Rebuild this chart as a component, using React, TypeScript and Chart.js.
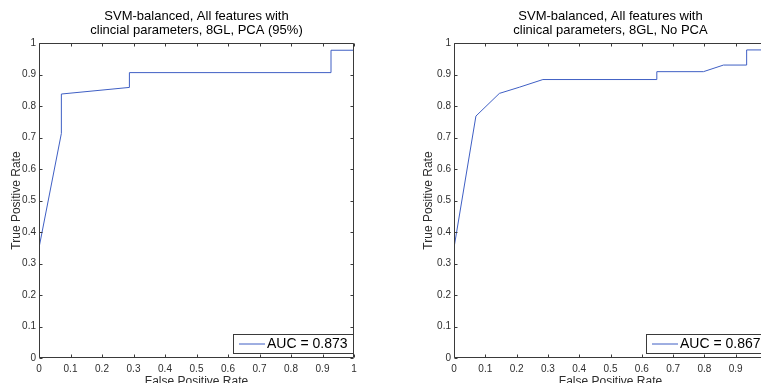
import React, { useEffect, useRef } from "react";
import { Chart, registerables } from "chart.js";

Chart.register(...registerables);

// ROC curve, left panel (PCA 95%)
const fprA = [0, 0.071, 0.071, 0.287, 0.287, 0.927, 0.927, 1];
const tprA = [0.35, 0.713, 0.838, 0.859, 0.906, 0.906, 0.977, 0.977];

// ROC curve, right panel (No PCA)
const fprB = [0, 0.07, 0.145, 0.21, 0.284, 0.648, 0.648, 0.797, 0.861, 0.935, 0.935, 1];
const tprB = [0.35, 0.768, 0.84, 0.86, 0.884, 0.884, 0.909, 0.909, 0.93, 0.93, 0.978, 0.978];

const titleA = ["SVM-balanced, All features with", "clincial parameters, 8GL, PCA (95%)"];
const titleB = ["SVM-balanced, All features with", "clinical parameters, 8GL, No PCA"];
const aucA = "AUC = 0.873";
const aucB = "AUC = 0.867";

const tickValues = [0, 0.1, 0.2, 0.3, 0.4, 0.5, 0.6, 0.7, 0.8, 0.9, 1];
const tickLabels = ["0", "0.1", "0.2", "0.3", "0.4", "0.5", "0.6", "0.7", "0.8", "0.9", "1"];
const xAxisLabel = "False Positive Rate";
const yAxisLabel = "True Positive Rate";

const FONT = "'Liberation Sans', Arial, Helvetica, sans-serif";
const LINE_COLOR = "#3f5fc4";
const AXIS_COLOR = "#3a3a3a";
const TEXT_COLOR = "#2e2e2e";
const CANVAS_H = 400;
const PLOT_BOTTOM = 358;

function labelFor(v: number): string {
  let best = 0;
  for (let i = 1; i < tickValues.length; i++) {
    if (Math.abs(tickValues[i] - v) < Math.abs(tickValues[best] - v)) best = i;
  }
  return tickLabels[best];
}

const framePlugin = {
  id: "frame",
  afterDatasetsDraw(chart: any) {
    const { ctx, chartArea, scales } = chart;
    const { left, right, top, bottom } = chartArea;
    const L = Math.round(left) + 0.5;
    const R = Math.round(right) - 0.5;
    const T = Math.round(top) + 0.5;
    const B = Math.round(bottom) - 0.5;
    const tl = 3;
    ctx.save();
    ctx.strokeStyle = AXIS_COLOR;
    ctx.lineWidth = 1;
    ctx.beginPath();
    ctx.rect(L, T, R - L, B - T);
    ctx.stroke();
    ctx.beginPath();
    for (const t of scales.x.ticks) {
      const px = Math.round(scales.x.getPixelForValue(t.value)) + 0.5;
      ctx.moveTo(px, B);
      ctx.lineTo(px, B - tl);
      ctx.moveTo(px, T);
      ctx.lineTo(px, T + tl);
    }
    for (const t of scales.y.ticks) {
      const py = Math.round(scales.y.getPixelForValue(t.value)) + 0.5;
      ctx.moveTo(L, py);
      ctx.lineTo(L + tl, py);
      ctx.moveTo(R, py);
      ctx.lineTo(R - tl, py);
    }
    ctx.stroke();
    ctx.restore();
  },
};

const aucPlugin = {
  id: "aucBox",
  afterDraw(chart: any, _args: any, opts: any) {
    const { ctx, chartArea } = chart;
    const text = opts.text as string;
    ctx.save();
    ctx.font = `14px ${FONT}`;
    const tw = ctx.measureText(text).width;
    const w = Math.round(6 + 26 + 3 + tw + 4);
    const h = 19;
    const right = Math.round(chartArea.right) - 1;
    const bottom = Math.round(chartArea.bottom) - 5;
    const x0 = right - w;
    const y0 = bottom - h;
    ctx.fillStyle = "#ffffff";
    ctx.fillRect(x0, y0, w, h);
    ctx.strokeStyle = AXIS_COLOR;
    ctx.lineWidth = 1;
    ctx.strokeRect(x0 + 0.5, y0 + 0.5, w, h);
    ctx.strokeStyle = LINE_COLOR;
    ctx.beginPath();
    ctx.moveTo(x0 + 6, y0 + 10);
    ctx.lineTo(x0 + 32, y0 + 10);
    ctx.stroke();
    ctx.fillStyle = "#000000";
    ctx.textBaseline = "middle";
    ctx.textAlign = "left";
    ctx.fillText(text, x0 + 34, y0 + h / 2 + 1);
    ctx.restore();
  },
};

type RocProps = {
  fpr: number[];
  tpr: number[];
  title: string[];
  auc: string;
  width: number;
  left: number;
  leftAxisW: number;
  rightPad: number;
  yTitlePad: number;
};

function RocChart(p: RocProps) {
  const ref = useRef<HTMLCanvasElement>(null);
  useEffect(() => {
    const chart = new Chart(ref.current as HTMLCanvasElement, {
      type: "scatter",
      data: {
        datasets: [
          {
            data: p.fpr.map((x, i) => ({ x, y: p.tpr[i] })),
            showLine: true,
            borderColor: LINE_COLOR,
            backgroundColor: LINE_COLOR,
            borderWidth: 1,
            pointRadius: 0,
            tension: 0,
          },
        ],
      },
      options: {
        responsive: false,
        animation: false,
        devicePixelRatio: 1,
        layout: { padding: { left: 0, right: p.rightPad, top: 0, bottom: 0 } },
        plugins: {
          legend: { display: false },
          tooltip: { enabled: false },
          title: {
            display: true,
            text: p.title,
            fullSize: false,
            color: "#000000",
            font: { family: FONT, size: 13, weight: "normal", lineHeight: 1.1 },
            padding: { top: 9, bottom: 5.4 },
          },
          aucBox: { text: p.auc },
        } as any,
        scales: {
          x: {
            type: "linear",
            position: "bottom",
            min: 0,
            max: 1,
            grid: { display: false, drawTicks: false },
            border: { display: false },
            ticks: {
              stepSize: 0.1,
              autoSkip: false,
              maxRotation: 0,
              padding: 5,
              color: TEXT_COLOR,
              font: { family: FONT, size: 10 },
              callback: (v: any) => labelFor(Number(v)),
            },
            title: {
              display: true,
              text: xAxisLabel,
              color: TEXT_COLOR,
              font: { family: FONT, size: 12 },
              padding: { top: 0, bottom: 11 },
            },
            afterFit: (s: any) => {
              s.height = CANVAS_H - PLOT_BOTTOM;
            },
          },
          y: {
            type: "linear",
            position: "left",
            min: 0,
            max: 1,
            grid: { display: false, drawTicks: false },
            border: { display: false },
            ticks: {
              stepSize: 0.1,
              autoSkip: false,
              padding: 3,
              color: TEXT_COLOR,
              font: { family: FONT, size: 10 },
              callback: (v: any) => labelFor(Number(v)),
            },
            title: {
              display: true,
              text: yAxisLabel,
              color: TEXT_COLOR,
              font: { family: FONT, size: 12 },
              padding: { top: p.yTitlePad, bottom: 0 },
            },
            afterFit: (s: any) => {
              s.width = p.leftAxisW;
            },
          },
        },
      } as any,
      plugins: [framePlugin, aucPlugin],
    });
    return () => chart.destroy();
  }, []);
  return (
    <canvas
      ref={ref}
      width={p.width}
      height={CANVAS_H}
      style={{ position: "absolute", left: p.left, top: 0, width: p.width, height: CANVAS_H }}
    />
  );
}

export default function App() {
  return (
    <div
      style={{
        position: "fixed",
        left: 0,
        top: 0,
        width: 761,
        height: 383,
        overflow: "hidden",
        background: "#ffffff",
      }}
    >
      <RocChart fpr={fprA} tpr={tprA} title={titleA} auc={aucA} width={380} left={0} leftAxisW={39} rightPad={26} yTitlePad={9.3} />
      <RocChart fpr={fprB} tpr={tprB} title={titleB} auc={aucB} width={420} left={380} leftAxisW={74} rightPad={33} yTitlePad={41.5} />
    </div>
  );
}
